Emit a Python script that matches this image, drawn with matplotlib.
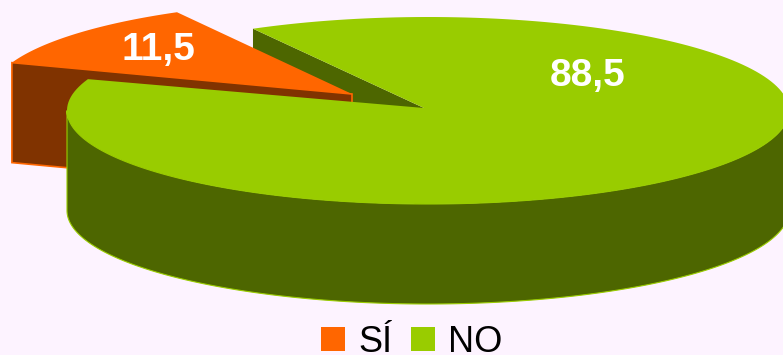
import numpy as np
from matplotlib import pyplot as plt
from matplotlib.patches import Patch, Polygon

labels = ['SÍ', 'NO']
values = [11.5, 88.5]
value_text = ['11,5', '88,5']

ORANGE = '#FF6600'
ORANGE_DARK = '#803300'
GREEN = '#99CC00'
GREEN_DARK = '#4D6600'
BG = '#FDF3FF'

plt.rcParams['font.family'] = ['Liberation Sans', 'DejaVu Sans']

fig = plt.figure(figsize=(7.83, 3.55), dpi=100, facecolor=BG)
ax = fig.add_axes([0, 0, 1, 1])
ax.set_xlim(0, 783)
ax.set_ylim(355, 0)
ax.axis('off')

# tamaño de la elipse y grosor del pastel, en pixeles
rx, ry = 361, 93.5
depth = 100
start = 119


def arc(cx, cy, a0, a1):
    t = np.radians(np.linspace(a0, a1, 200))
    return np.column_stack([cx + rx * np.cos(t), cy - ry * np.sin(t)])


def down(pts):
    return pts + [0, depth]


sweep = [v / sum(values) * 360 for v in values]
a_si = start + sweep[0]
a_no = a_si + sweep[1]

cx_no, cy_no = 428, 110.5
apex_no = [424, 108]
cx_si, cy_si = 352, 94

# cara interior del NO, queda detras de la porcion SI
edge = np.array([arc(cx_no, cy_no, start, start)[0], apex_no])
ax.add_patch(Polygon(np.vstack([edge, down(edge)[::-1]]), fc=GREEN_DARK, ec='none'))

# porcion SI separada
edge_si = np.array([arc(cx_si, cy_si, a_si, a_si)[0], [cx_si, cy_si]])
ax.add_patch(Polygon(np.vstack([edge_si, down(edge_si)[::-1]]),
                     fc=ORANGE_DARK, ec=ORANGE, lw=1.2))
ax.add_patch(Polygon(np.vstack([[cx_si, cy_si], arc(cx_si, cy_si, start, a_si)]),
                     fc=ORANGE, ec='none'))

# pared exterior y tapa del NO
front = arc(cx_no, cy_no, 180, 360)
ax.add_patch(Polygon(np.vstack([front, down(front)[::-1]]),
                     fc=GREEN_DARK, ec=GREEN, lw=0.8))
ax.add_patch(Polygon(np.vstack([apex_no, arc(cx_no, cy_no, a_si, a_no)]),
                     fc=GREEN, ec='none'))

ax.text(158, 50, value_text[0], color='white', fontsize=28, fontweight='bold',
        ha='center', va='center')
ax.text(588, 76, value_text[1], color='white', fontsize=28, fontweight='bold',
        ha='center', va='center')

handles = [Patch(fc=ORANGE, ec='none'), Patch(fc=GREEN, ec='none')]
ax.legend(handles, labels, ncol=2, frameon=False, fontsize=26, loc='center',
          bbox_to_anchor=(412 / 783, 1 - 342 / 355), handlelength=0.66, handleheight=0.66,
          handletextpad=0.36, columnspacing=0.53, borderpad=0, borderaxespad=0,
          labelcolor='black')

fig.savefig('out.png', dpi=100, facecolor=BG)
